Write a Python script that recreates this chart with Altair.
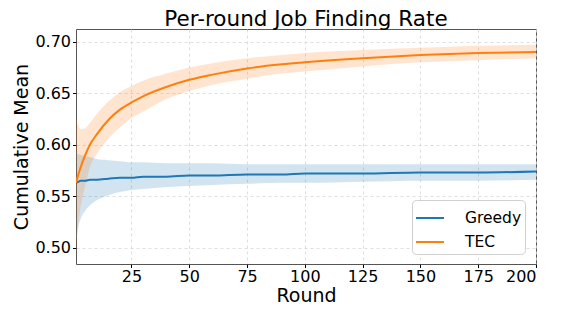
import altair as alt
import pandas as pd

rounds = [1, 2, 3, 5, 7, 10, 15, 20, 25, 30, 40, 50, 60, 75, 90, 100, 125, 150, 175, 200]

greedy_mean = [0.563, 0.564, 0.565, 0.565, 0.566, 0.566, 0.567, 0.568, 0.568, 0.569,
               0.569, 0.570, 0.570, 0.571, 0.571, 0.572, 0.572, 0.573, 0.573, 0.574]
greedy_hi = [0.592, 0.591, 0.590, 0.589, 0.588, 0.586, 0.585, 0.584, 0.583, 0.583,
             0.582, 0.582, 0.582, 0.581, 0.581, 0.581, 0.581, 0.581, 0.581, 0.581]
greedy_lo = [0.503, 0.520, 0.528, 0.536, 0.541, 0.546, 0.551, 0.554, 0.556, 0.557,
             0.559, 0.560, 0.561, 0.562, 0.563, 0.563, 0.564, 0.565, 0.565, 0.566]

tec_mean = [0.563, 0.571, 0.578, 0.590, 0.600, 0.610, 0.624, 0.634, 0.641, 0.647,
            0.656, 0.663, 0.668, 0.674, 0.678, 0.680, 0.684, 0.687, 0.689, 0.690]
tec_hi = [0.626, 0.619, 0.615, 0.616, 0.621, 0.630, 0.642, 0.651, 0.657, 0.662,
          0.669, 0.675, 0.679, 0.684, 0.687, 0.689, 0.692, 0.694, 0.696, 0.697]
tec_lo = [0.500, 0.524, 0.540, 0.560, 0.578, 0.591, 0.606, 0.617, 0.626, 0.632,
          0.644, 0.652, 0.658, 0.664, 0.669, 0.671, 0.676, 0.680, 0.682, 0.684]

series = ["Greedy", "TEC"]
colors = ["#1f77b4", "#ff7f0e"]

rows = []
for name, m, hi, lo in [("Greedy", greedy_mean, greedy_hi, greedy_lo),
                        ("TEC", tec_mean, tec_hi, tec_lo)]:
    for r, a, b, c in zip(rounds, m, hi, lo):
        rows.append({"Round": r, "mean": a, "hi": b, "lo": c, "series": name})
df = pd.DataFrame(rows)

font = "DejaVu Sans"
xs = alt.Scale(domain=[1, 200], nice=False, zero=False)
ys = alt.Scale(domain=[0.4842, 0.7123], nice=False, zero=False)
cs = alt.Scale(domain=series, range=colors)

x = alt.X("Round:Q", scale=xs, title="Round",
          axis=alt.Axis(values=[25, 50, 75, 100, 125, 150, 175, 200], format="d"))
y = alt.Y("mean:Q", scale=ys, title="Cumulative Mean",
          axis=alt.Axis(values=[0.50, 0.55, 0.60, 0.65, 0.70], format=".2f"))

base = alt.Chart(df)

band = base.mark_area(fillOpacity=0.2, interpolate="monotone", clip=True).encode(
    x=x,
    y=alt.Y("lo:Q", scale=ys, title="Cumulative Mean"),
    y2="hi:Q",
    fill=alt.Fill("series:N", scale=cs, legend=None),
    detail="series:N",
)

line = base.mark_line(strokeWidth=2, interpolate="monotone", clip=True).encode(
    x=x,
    y=y,
    color=alt.Color("series:N", scale=cs, title=None,
                    legend=alt.Legend(orient="none", legendX=336, legendY=171,
                                      symbolType="stroke", symbolSize=784,
                                      symbolStrokeWidth=2, labelFontSize=15.5,
                                      labelFont=font, fillColor="white",
                                      strokeColor="#d0d0d0", cornerRadius=4,
                                      padding=3, rowPadding=-4, labelOffset=20,
                                      labelColor="black")),
)

chart = alt.layer(band, line).resolve_scale(color="independent", fill="independent").properties(
    width=460, height=235,
    title=alt.Title("Per-round Job Finding Rate", fontSize=21.5, font=font,
                    fontWeight="normal", color="black", offset=-1),
    autosize=alt.AutoSizeParams(type="none"),
    padding={"left": 68, "top": 21, "right": 19, "bottom": 45},
).configure_axis(
    labelFont=font, titleFont=font, labelFontSize=16, titleFontSize=19,
    titleFontWeight="normal", labelColor="black", titleColor="black",
    grid=True, gridDash=[3, 3], gridColor="#d5d5d5", gridWidth=0.8,
    domain=False, tickColor="black", tickSize=3.5,
).configure_axisY(titlePadding=3, labelPadding=2).configure_axisX(
    titlePadding=2, labelPadding=1
).configure_view(
    stroke="#555555", strokeWidth=1
)

chart.save("out.html", embed_options={"renderer": "svg", "actions": False})
